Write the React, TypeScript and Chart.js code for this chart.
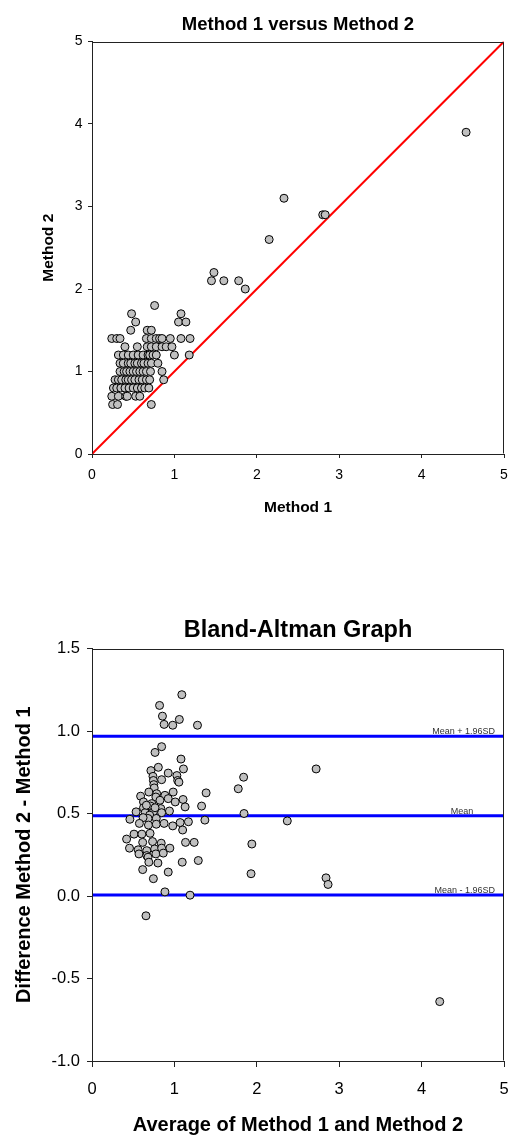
import React, { useEffect, useRef } from "react";
import { Chart, registerables } from "chart.js";

Chart.register(...registerables);

const FONT = "Arial, 'Liberation Sans', Helvetica, sans-serif";

// ---------- Chart 1: Method 1 versus Method 2 ----------
const TOP_TITLE = "Method 1 versus Method 2";
const TOP_X_TITLE = "Method 1";
const TOP_Y_TITLE = "Method 2";
const topTicks = [0, 1, 2, 3, 4, 5];
const identityLine = [0, 5];

const method1 = [
  4.54, 2.33, 2.8, 2.83, 2.15, 1.48, 1.45, 1.6, 1.78, 1.86,
  0.76,
  0.48, 1.08,
  0.53, 1.05, 1.14,
  0.47, 0.67, 0.72,
  0.24, 0.3, 0.34, 0.66, 0.72, 0.78, 0.82, 0.85, 0.95, 1.08, 1.19,
  0.4, 0.55, 0.67, 0.72, 0.78, 0.85, 0.9, 0.97,
  0.32, 0.38, 0.44, 0.5, 0.56, 0.62, 0.68, 0.7, 0.74, 0.78, 1.0, 1.18,
  0.34, 0.38, 0.44, 0.47, 0.52, 0.55, 0.6, 0.63, 0.68, 0.72, 0.8,
  0.34, 0.39, 0.42, 0.46, 0.5, 0.54, 0.58, 0.62, 0.66, 0.71, 0.85,
  0.28, 0.32, 0.36, 0.41, 0.44, 0.48, 0.52, 0.57, 0.61, 0.66, 0.7, 0.87,
  0.26, 0.3, 0.35, 0.4, 0.45, 0.5, 0.55, 0.6, 0.64, 0.69,
  0.24, 0.32, 0.41, 0.43, 0.53, 0.58,
  0.25, 0.31, 0.72,
];
const method2 = [
  3.9, 3.1, 2.9, 2.9, 2.6, 2.2, 2.1, 2.1, 2.1, 2.0,
  1.8,
  1.7, 1.7,
  1.6, 1.6, 1.6,
  1.5, 1.5, 1.5,
  1.4, 1.4, 1.4, 1.4, 1.4, 1.4, 1.4, 1.4, 1.4, 1.4, 1.4,
  1.3, 1.3, 1.3, 1.3, 1.3, 1.3, 1.3, 1.3,
  1.2, 1.2, 1.2, 1.2, 1.2, 1.2, 1.2, 1.2, 1.2, 1.2, 1.2, 1.2,
  1.1, 1.1, 1.1, 1.1, 1.1, 1.1, 1.1, 1.1, 1.1, 1.1, 1.1,
  1.0, 1.0, 1.0, 1.0, 1.0, 1.0, 1.0, 1.0, 1.0, 1.0, 1.0,
  0.9, 0.9, 0.9, 0.9, 0.9, 0.9, 0.9, 0.9, 0.9, 0.9, 0.9, 0.9,
  0.8, 0.8, 0.8, 0.8, 0.8, 0.8, 0.8, 0.8, 0.8, 0.8,
  0.7, 0.7, 0.7, 0.7, 0.7, 0.7,
  0.6, 0.6, 0.6,
];

// ---------- Chart 2: Bland-Altman Graph ----------
const BA_TITLE = "Bland-Altman Graph";
const BA_X_TITLE = "Average of Method 1 and Method 2";
const BA_Y_TITLE = "Difference Method 2 - Method 1";
const baTicksX = [0, 1, 2, 3, 4, 5];
const baTicksY = [-1.0, -0.5, 0.0, 0.5, 1.0, 1.5];

const averages = [
  4.22, 2.72, 2.84, 2.865, 2.37, 1.845, 1.775, 1.84, 1.94, 1.93,
  1.09, 0.82, 0.855, 0.875, 0.98, 1.06, 1.28,
  0.845, 0.765, 1.08,
  1.11, 0.805, 0.715, 0.925, 1.03, 0.74, 1.04, 0.845, 0.745, 1.055, 0.75, 0.755,
  0.59, 0.69, 0.785, 0.885, 0.985, 1.385, 0.775, 1.105, 0.625, 0.725, 0.825, 0.925, 1.01, 1.13, 1.33,
  0.46, 0.535, 0.625, 0.645, 0.71, 0.745, 0.835, 0.845, 0.94, 1.37, 0.66, 0.7, 0.765, 0.78, 0.68, 0.62,
  0.575, 0.685, 0.78, 0.875, 0.98, 1.07, 1.1, 1.17,
  0.42, 0.51, 0.605, 0.705, 0.615, 0.735, 0.84, 1.135, 1.24,
  0.455, 0.56, 0.665, 0.76, 0.845, 0.945, 0.57, 0.665, 0.775, 0.865, 0.68,
  0.69, 0.8, 1.095, 1.29,
  0.615, 0.925, 0.745, 0.885, 1.19, 0.655,
];
const differences = [
  -0.64, 0.77, 0.11, 0.07, 0.455, 0.5, 0.65, 0.72, 0.315, 0.135,
  1.22, 1.155, 1.09, 1.04, 1.035, 1.07, 1.035,
  0.905, 0.87, 0.83,
  0.77, 0.78, 0.76, 0.745, 0.73, 0.725, 0.7, 0.705, 0.7, 0.69, 0.675, 0.655,
  0.605, 0.63, 0.62, 0.61, 0.63, 0.625, 0.6, 0.585, 0.57, 0.56, 0.58, 0.59, 0.57, 0.54, 0.545,
  0.465, 0.51, 0.535, 0.505, 0.545, 0.51, 0.53, 0.505, 0.515, 0.46, 0.55, 0.49, 0.535, 0.47, 0.47, 0.475,
  0.44, 0.43, 0.435, 0.44, 0.425, 0.445, 0.4, 0.45,
  0.345, 0.375, 0.375, 0.38, 0.325, 0.33, 0.32, 0.325, 0.325,
  0.29, 0.28, 0.275, 0.285, 0.29, 0.29, 0.255, 0.245, 0.255, 0.26, 0.235,
  0.205, 0.2, 0.205, 0.215,
  0.16, 0.145, 0.105, 0.025, 0.005, -0.12,
];

const limitNames = ["Mean + 1.96SD", "Mean", "Mean - 1.96SD"];
const limitValues = [0.968, 0.487, 0.006];

const AXIS_COLOR = "#222";
const POINT_FILL = "#c0c0c0";

const framePlugin = {
  id: "frame",
  afterDraw(chart: any, _args: any, opts: any) {
    const { ctx, chartArea: a } = chart;
    ctx.save();
    ctx.strokeStyle = AXIS_COLOR;
    ctx.lineWidth = 1;
    const l = Math.round(a.left) + 0.5;
    const t = Math.round(a.top) + 0.5;
    const r = Math.round(a.right) - 0.5;
    const b = Math.round(a.bottom) - 0.5;
    ctx.beginPath();
    ctx.moveTo(l, b);
    ctx.lineTo(l, t);
    ctx.lineTo(r, t);
    ctx.lineTo(r, b);
    ctx.stroke();
    if (opts && opts.text) {
      ctx.fillStyle = "#000";
      ctx.font = `bold ${opts.size}px ${FONT}`;
      ctx.textAlign = "center";
      ctx.textBaseline = "middle";
      ctx.fillText(opts.text, (a.left + a.right) / 2, opts.y);
    }
    ctx.restore();
  },
};

const limitLabelPlugin = {
  id: "limitLabels",
  afterDraw(chart: any) {
    const { ctx, chartArea: a, scales } = chart;
    ctx.save();
    ctx.fillStyle = "#333";
    ctx.font = `9px ${FONT}`;
    ctx.textBaseline = "alphabetic";
    limitNames.forEach((name, i) => {
      const y = scales.y.getPixelForValue(limitValues[i]) - 2;
      if (name === "Mean") {
        ctx.textAlign = "center";
        ctx.fillText(name, scales.x.getPixelForValue(4.49), y);
      } else {
        ctx.textAlign = "right";
        ctx.fillText(name, a.right - 9, y);
      }
    });
    ctx.restore();
  },
};

function axis(opts: any) {
  return {
    type: "linear",
    min: opts.min,
    max: opts.max,
    afterBuildTicks: (s: any) => {
      s.ticks = opts.ticks.map((v: number) => ({ value: v }));
    },
    ticks: {
      color: "#000",
      font: { family: FONT, size: opts.tickSize },
      padding: opts.tickPad,
      maxRotation: 0,
      autoSkip: false,
      callback: opts.fmt,
    },
    grid: {
      display: true,
      drawOnChartArea: false,
      drawTicks: true,
      tickLength: opts.tickLen,
      color: AXIS_COLOR,
      tickColor: AXIS_COLOR,
      tickWidth: 1,
    },
    border: { display: true, color: AXIS_COLOR, width: 1 },
    title: {
      display: true,
      text: opts.title,
      color: "#000",
      font: { family: FONT, size: opts.titleSize, weight: "bold", lineHeight: 1 },
      padding: opts.titlePad,
    },
    afterFit: (s: any) => {
      opts.afterFit(s);
      s.paddingLeft = 0;
      s.paddingRight = 0;
      s.paddingTop = 0;
      s.paddingBottom = 0;
    },
  };
}

export default function App() {
  const topRef = useRef<HTMLCanvasElement>(null);
  const botRef = useRef<HTMLCanvasElement>(null);

  useEffect(() => {
    const top = new Chart(topRef.current as HTMLCanvasElement, {
      type: "scatter",
      data: {
        datasets: [
          {
            data: method1.map((x, i) => ({ x, y: method2[i] })),
            backgroundColor: POINT_FILL,
            borderColor: "#000",
            borderWidth: 1,
            pointRadius: 4,
          },
          {
            data: identityLine.map((v) => ({ x: v, y: v })),
            showLine: true,
            borderColor: "#ff0000",
            borderWidth: 2,
            pointRadius: 0,
          },
        ],
      } as any,
      options: {
        animation: false,
        responsive: false,
        events: [],
        layout: { padding: { left: 0, right: 7, top: 41.5, bottom: 0 } },
        plugins: {
          legend: { display: false },
          tooltip: { enabled: false },
          frame: { text: TOP_TITLE, size: 18.5, y: 25 },
        } as any,
        scales: {
          x: axis({
            min: 0, max: 5, ticks: topTicks, tickSize: 14, tickPad: 9, tickLen: 4,
            title: TOP_X_TITLE, titleSize: 15.5, titlePad: { top: 0, bottom: 45 },
            fmt: (v: any) => String(v),
            afterFit: (s: any) => { s.height = 106; },
          }),
          y: axis({
            min: 0, max: 5, ticks: topTicks, tickSize: 14, tickPad: 5.5, tickLen: 4,
            title: TOP_Y_TITLE, titleSize: 15.5, titlePad: { top: 41, bottom: 0 },
            fmt: (v: any) => String(v),
            afterFit: (s: any) => { s.width = 92; },
          }),
        } as any,
      },
      plugins: [framePlugin],
    });

    const bot = new Chart(botRef.current as HTMLCanvasElement, {
      type: "scatter",
      data: {
        datasets: [
          {
            data: averages.map((x, i) => ({ x, y: differences[i] })),
            backgroundColor: POINT_FILL,
            borderColor: "#000",
            borderWidth: 1,
            pointRadius: 4,
          },
          ...limitValues.map((v) => ({
            data: [{ x: 0, y: v }, { x: 5, y: v }],
            showLine: true,
            borderColor: "#0000ff",
            borderWidth: 3,
            pointRadius: 0,
          })),
        ],
      } as any,
      options: {
        animation: false,
        responsive: false,
        events: [],
        layout: { padding: { left: 0, right: 7, top: 88.5, bottom: 0 } },
        plugins: {
          legend: { display: false },
          tooltip: { enabled: false },
          frame: { text: BA_TITLE, size: 23.5, y: 71 },
        } as any,
        scales: {
          x: axis({
            min: 0, max: 5, ticks: baTicksX, tickSize: 16.5, tickPad: 13, tickLen: 6,
            title: BA_X_TITLE, titleSize: 20, titlePad: { top: 0, bottom: 0 },
            fmt: (v: any) => String(v),
            afterFit: (s: any) => { s.height = 74; },
          }),
          y: axis({
            min: -1, max: 1.5, ticks: baTicksY, tickSize: 16.5, tickPad: 7, tickLen: 5,
            title: BA_Y_TITLE, titleSize: 20, titlePad: { top: 14, bottom: 0 },
            fmt: (v: any) => Number(v).toFixed(1),
            afterFit: (s: any) => { s.width = 92; },
          }),
        } as any,
      },
      plugins: [framePlugin, limitLabelPlugin],
    });

    return () => {
      top.destroy();
      bot.destroy();
    };
  }, []);

  return (
    <div style={{ position: "absolute", left: 0, top: 0, width: 511, height: 1135, background: "#fff" }}>
      <canvas
        ref={topRef}
        width={511}
        height={560}
        style={{ position: "absolute", left: 0, top: 0, width: 511, height: 560, display: "block" }}
      />
      <canvas
        ref={botRef}
        width={511}
        height={575}
        style={{ position: "absolute", left: 0, top: 560, width: 511, height: 575, display: "block" }}
      />
    </div>
  );
}
